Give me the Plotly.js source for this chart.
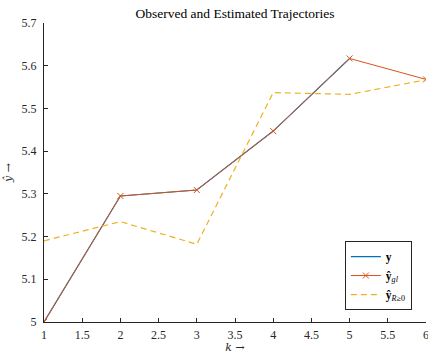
<!DOCTYPE html>
<html><head><meta charset="utf-8">
<script src="https://cdn.plot.ly/plotly-3.0.1.min.js"></script>
<style>html,body{margin:0;padding:0;background:#fff}#c{width:428px;height:354px}</style>
</head><body><div id="c"></div>
<script>
const k = [1, 2, 3, 4, 5, 6];
const yObs = [5.0, 5.295, 5.309, 5.447, 5.617, null];
const yGl = [5.0, 5.295, 5.309, 5.447, 5.617, 5.568];
const yR = [5.19, 5.235, 5.182, 5.537, 5.533, 5.567];
const names = ['<b>y</b>', '<b>ŷ</b><sub><i>gl</i></sub>', '<b>ŷ</b><sub><i>R</i>≥0</sub>'];
const xTicks = [1, 1.5, 2, 2.5, 3, 3.5, 4, 4.5, 5, 5.5, 6];
const yTicks = [5, 5.1, 5.2, 5.3, 5.4, 5.5, 5.6, 5.7];

const fam = '"Liberation Serif", "DejaVu Serif", serif';
const tfam = '"DejaVu Serif", serif';
const tf = {family: fam, size: 12, color: '#262626'};
const traces = [
  {x: k, y: yObs, name: names[0], mode: 'lines', line: {color: '#0072BD', width: 1.2}},
  {x: k, y: yGl, name: names[1], mode: 'lines+markers', line: {color: '#D95319', width: 1},
   marker: {symbol: 'x-thin', size: 6, line: {color: '#D95319', width: 1}}},
  {x: k, y: yR, name: names[2], mode: 'lines', line: {color: '#EDB120', width: 1.2, dash: '6px,4px'}}
];
const layout = {
  width: 428, height: 354,
  margin: {l: 44, r: 2, t: 23, b: 32},
  paper_bgcolor: '#fff', plot_bgcolor: '#fff',
  font: {family: fam, size: 12, color: '#262626'},
  title: {text: 'Observed and Estimated Trajectories', font: {family: fam, size: 13.5, color: '#000'},
    xref: 'paper', x: 0.5, xanchor: 'center', y: 0.962, yanchor: 'middle'},
  xaxis: {range: [1, 6], tickvals: xTicks, ticktext: xTicks.map(String), ticks: 'inside', ticklen: 4, tickcolor: '#262626',
    tickfont: tf, ticklabeloverflow: 'allow', ticklabelstandoff: 2,
    showline: true, linecolor: '#262626', linewidth: 1, showgrid: false, zeroline: false,
    title: {text: '<i>k</i> →', standoff: 3, font: {family: tfam, size: 11, color: '#262626'}}},
  yaxis: {range: [5, 5.7], tickvals: yTicks, ticktext: yTicks.map(v => v === 5 ? '5' : v.toFixed(1)), ticks: 'inside', ticklen: 4, tickcolor: '#262626',
    tickfont: tf, ticklabeloverflow: 'allow', ticklabelstandoff: 4,
    showline: true, linecolor: '#262626', linewidth: 1, showgrid: false, zeroline: false,
    title: {text: '<i>ŷ</i> →', standoff: 6, font: {family: tfam, size: 11, color: '#262626'}}},
  showlegend: true,
  legend: {x: 0.963, y: 0.04, xanchor: 'right', yanchor: 'bottom', bgcolor: '#fff', bordercolor: '#262626', borderwidth: 1,
    font: {family: fam, size: 11.5, color: '#000'}, tracegroupgap: 0, itemwidth: 30}
};
Plotly.newPlot('c', traces, layout, {displayModeBar: false, staticPlot: true});
</script></body></html>
